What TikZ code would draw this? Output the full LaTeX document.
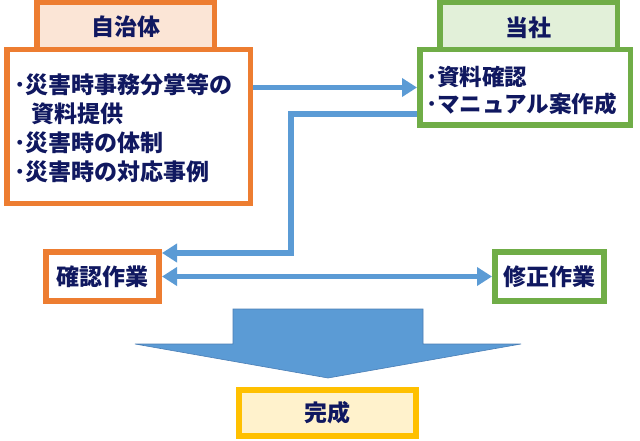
\documentclass[tikz,border=0pt]{standalone}
\usepackage{fontspec}
\newfontfamily\jp{Noto Sans CJK JP}
\usetikzlibrary{arrows.meta}
\definecolor{cOrange}{HTML}{ED7D31}
\definecolor{cGreen}{HTML}{70AD47}
\definecolor{cBlue}{HTML}{5B9BD5}
\definecolor{cBlueDark}{HTML}{4A7EB5}
\definecolor{cYellow}{HTML}{FFC000}
\definecolor{fPink}{HTML}{FBE5D6}
\definecolor{fGreen}{HTML}{E2F0D9}
\definecolor{fYellow}{HTML}{FFF2CC}
\definecolor{cText}{RGB}{16,24,96}
\tikzset{
  box/.style={draw, rectangle, inner sep=0pt, text=cText, font=\jp\bfseries\fontsize{23}{29}\selectfont},
  obox/.style={box, draw=cOrange, line width=5.5pt},
  gbox/.style={box, draw=cGreen, line width=5.5pt},
  ybox/.style={box, draw=cYellow, line width=6pt, fill=fYellow},
  arr/.style={draw=cBlue, line width=5.5pt, -{Triangle[length=15pt,width=18pt]}},
  darr/.style={draw=cBlue, line width=5.5pt, {Triangle[length=15pt,width=18pt]}-{Triangle[length=15pt,width=18pt]}},
}
\begin{document}
\begin{tikzpicture}[x=1pt,y=-1pt]
\useasboundingbox[fill=white] (0,0) rectangle (640,441);
% headers
\node[obox, fill=fPink, minimum width=177.5pt, minimum height=47pt] (jh) at (125.5,26) {};
\node[gbox, fill=fGreen, minimum width=177.5pt, minimum height=47pt] (th) at (528.5,26) {};
\node[text=cText, font=\jp\bfseries\fontsize{23}{29}\selectfont] (jht) at (126,27) {自治体};
\node[text=cText, font=\jp\bfseries\fontsize{23}{29}\selectfont] (tht) at (528.5,28) {当社};
% main boxes
\node[obox, fill=white, minimum width=243.5pt, minimum height=153.5pt] (jz) at (128.5,126.5) {};
\node[gbox, fill=white, minimum width=210.5pt, minimum height=75.5pt] (ts) at (525,87.5) {};
\node[text=cText, font=\jp\bfseries\fontsize{23}{29}\selectfont, align=left, anchor=west, inner sep=0pt] (jzt) at (14,128.5)
  {･災害時事務分掌等の\\\hspace{17pt}資料提供\\･災害時の体制\\･災害時の対応事例};
\node[text=cText, font=\jp\bfseries\fontsize{22.5}{27}\selectfont, align=left, anchor=west, inner sep=0pt] (tst) at (426,90.5)
  {･資料確認\\･マニュアル案作成};
% lower boxes
\node[obox, line width=6pt, fill=white, minimum width=113pt, minimum height=49pt] (kn) at (102.5,276.5) {確認作業};
\node[gbox, line width=6pt, fill=white, minimum width=109pt, minimum height=49pt] (sy) at (549.5,276.5) {修正作業};
\node[ybox, minimum width=177pt, minimum height=46pt] (kc) at (327.5,413) {完成};
% connectors
\coordinate (c1) at (291,253);
\draw[arr] (jz.east |- ts.west) -- (ts.west);
\draw[arr] ([yshift=-26.5pt]ts.west) -| (c1) -- (kn.east |- c1);
\draw[darr] (kn.east) -- (sy.west);
% big arrow
\draw[fill=cBlue, draw=cBlueDark, line width=0.6pt]
  (233,309) -- (423,309) -- (423,344) -- (521,344) -- (328,378) -- (135,344) -- (233,344) -- cycle;
\end{tikzpicture}
\end{document}
